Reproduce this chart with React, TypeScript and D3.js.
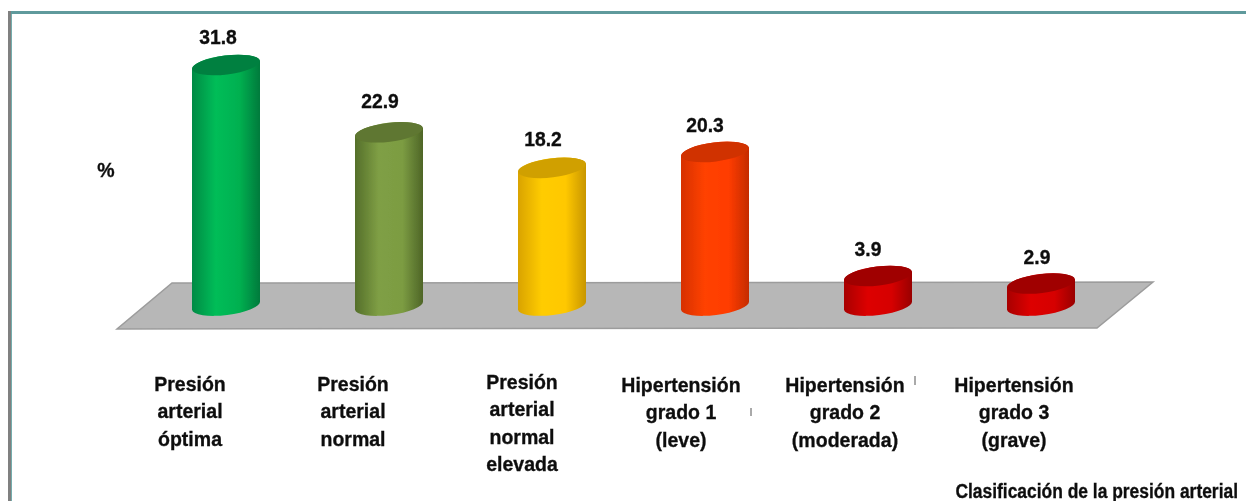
import React from "react";
import * as d3 from "d3";

const categories = ["c1", "c2", "c3", "c4", "c5", "c6"];
const values = [31.8, 22.9, 18.2, 20.3, 3.9, 2.9];
const valueLabels = ["31.8", "22.9", "18.2", "20.3", "3.9", "2.9"];
const labelLines = [
  ["Presión", "arterial", "óptima"],
  ["Presión", "arterial", "normal"],
  ["Presión", "arterial", "normal", "elevada"],
  ["Hipertensión", "grado 1", "(leve)"],
  ["Hipertensión", "grado 2", "(moderada)"],
  ["Hipertensión", "grado 3", "(grave)"],
];
const labelCenters = [190, 353, 522, 681, 845, 1014];
const labelBaselines = [391, 391, 389, 392, 392, 392];
const valueDx = [-8, -9, -9, -10, -10, -4];
const valueDy = [-21, -24, -22, -20, -20, -20];
const sideColors = [
  ["#008a45", "#00bd58", "#00b050", "#007a3c"],
  ["#556f2a", "#7f9f45", "#7c9c42", "#4e6527"],
  ["#d9a300", "#ffcc00", "#ffc800", "#c89600"],
  ["#d63000", "#ff4200", "#ff3c00", "#c42c00"],
  ["#a80000", "#dd0000", "#d60000", "#990000"],
  ["#a80000", "#dd0000", "#d60000", "#990000"],
];
const capColors = ["#008040", "#5f7730", "#d0a000", "#d03000", "#a00000", "#a00000"];

const W = 1246, H = 501;
const x = d3.scalePoint<string>().domain(categories).range([226, 1041]);
const y = d3.scaleLinear().domain([0, 32]).range([305.5, 63.5]);
const RX = 34, RY = 9.5, TILT = -7;
const FONT = "'Liberation Sans', Arial, sans-serif";

function cylinderPath(cx: number, top: number, bottom: number) {
  const a = (TILT * Math.PI) / 180;
  const dx = RX, dy = RX * Math.tan(a);
  return `M${cx - dx},${top - dy} A${RX},${RY} ${TILT} 0 1 ${cx + dx},${top + dy} L${cx + dx},${bottom + dy} A${RX},${RY} ${TILT} 0 1 ${cx - dx},${bottom - dy} Z`;
}

const floor = d3.line()([[172, 283], [1153, 282], [1097, 328], [117, 329]]) + "Z";

function Label({ x, y, children, sx = 0.93, size = 21, anchor = "middle" }: any) {
  return (
    <text transform={`translate(${x} ${y}) scale(${sx} 1)`} textAnchor={anchor} fontSize={size} stroke="#111" strokeWidth={0.35}>
      {children}
    </text>
  );
}

export default function App() {
  return (
    <svg width={W} height={H} style={{ position: "absolute", left: 0, top: 0, background: "#fff" }} fontFamily={FONT} fontWeight="bold" fill="#111">
      <defs>
        {sideColors.map((c, i) => (
          <linearGradient key={i} id={`side${i}`} x1="0" x2="1" y1="0" y2="0">
            <stop offset="0" stopColor={c[0]} />
            <stop offset="0.35" stopColor={c[1]} />
            <stop offset="0.7" stopColor={c[2]} />
            <stop offset="1" stopColor={c[3]} />
          </linearGradient>
        ))}
        <filter id="soft" x="-5%" y="-5%" width="110%" height="110%">
          <feGaussianBlur stdDeviation="0.7" />
        </filter>
        <filter id="softText" x="-5%" y="-5%" width="110%" height="110%">
          <feGaussianBlur stdDeviation="0.35" />
        </filter>
      </defs>
      <rect x={10.5} y={12.5} width={1240} height={490} fill="#fff" stroke="#5f9a9c" strokeWidth={3} />
      <path d="M9.5,11 V501" stroke="#808080" strokeWidth={3} fill="none" />
      <path d="M11.5,14 V501" stroke="#74adad" strokeWidth={1} fill="none" />
      <path d={floor} fill="#b7b7b7" stroke="#9c9c9c" strokeWidth={1.5} />
      {categories.map((c, i) => {
        const cx = x(c)!;
        const top = y(values[i]);
        const base = y(0);
        return (
          <g key={c} filter="url(#soft)">
            <path d={cylinderPath(cx, top, base)} fill={`url(#side${i})`} />
            <ellipse cx={cx} cy={top} rx={RX} ry={RY} transform={`rotate(${TILT} ${cx} ${top})`} fill={capColors[i]} />
          </g>
        );
      })}
      <g filter="url(#softText)">
        {categories.map((c, i) => (
          <Label key={c} x={x(c)! + valueDx[i]} y={y(values[i]) + valueDy[i]} sx={0.92}>
            {valueLabels[i]}
          </Label>
        ))}
        {labelLines.map((lines, i) =>
          lines.map((l, j) => (
            <Label key={`${i}-${j}`} x={labelCenters[i]} y={labelBaselines[i] + j * 27.3}>
              {l}
            </Label>
          ))
        )}
        <Label x={106} y={177}>%</Label>
        <Label x={1238} y={498} anchor="end" sx={0.83}>Clasificación de la presión arterial</Label>
      </g>
      <path d="M915,376V385M751,408V416" stroke="#555" strokeWidth={1} />
    </svg>
  );
}
